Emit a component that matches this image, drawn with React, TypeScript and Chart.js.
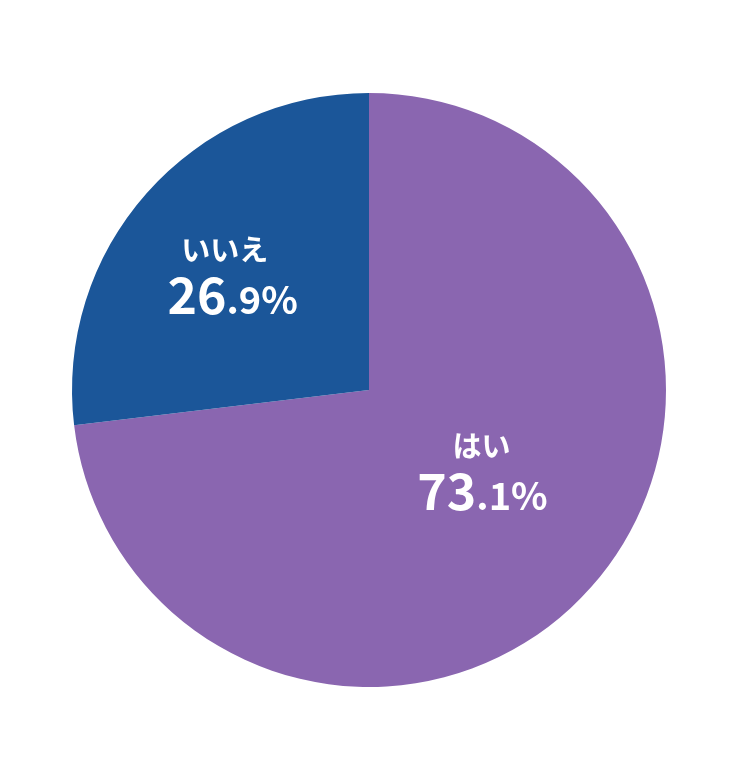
import React, { useEffect, useRef } from "react";
import { Chart, registerables } from "chart.js";

Chart.register(...registerables);

const categories = ["はい", "いいえ"];
const values = [73.1, 26.9];
const intParts = ["73", "26"];
const fracParts = [".1%", ".9%"];
const colors = ["#8a66b0", "#1b5699"];

// label placement style (fraction of radius, angle nudge in degrees, category-text x nudge)
const labelRadius = [0.47, 0.6];
const labelAngleShift = [-6, -1.5];
const categoryXShift = [-1, -8];

const FONT = '"Noto Sans CJK JP", "Noto Sans", sans-serif';

const labelPlugin = {
  id: "sliceLabels",
  afterDatasetsDraw(chart: any) {
    const ctx = chart.ctx;
    const meta = chart.getDatasetMeta(0);
    meta.data.forEach((arc: any, i: number) => {
      const p = arc.getProps(["x", "y", "startAngle", "endAngle", "outerRadius"], true);
      const mid = (p.startAngle + p.endAngle) / 2 + (labelAngleShift[i] * Math.PI) / 180;
      const r = p.outerRadius * labelRadius[i];
      const cx = p.x + Math.cos(mid) * r;
      const cy = p.y + Math.sin(mid) * r;
      ctx.save();
      ctx.fillStyle = "#ffffff";
      ctx.textAlign = "center";
      ctx.textBaseline = "middle";
      ctx.font = `bold 29px ${FONT}`;
      ctx.fillText(categories[i], cx + categoryXShift[i], cy - 25);
      ctx.textBaseline = "alphabetic";
      ctx.textAlign = "left";
      const bigFont = `bold 50px ${FONT}`;
      const smallFont = `bold 38px ${FONT}`;
      ctx.font = bigFont;
      const w1 = ctx.measureText(intParts[i]).width;
      ctx.font = smallFont;
      const w2 = ctx.measureText(fracParts[i]).width;
      const x0 = cx - (w1 + w2) / 2;
      ctx.font = bigFont;
      ctx.fillText(intParts[i], x0, cy + 39);
      ctx.font = smallFont;
      ctx.fillText(fracParts[i], x0 + w1, cy + 39);
      ctx.restore();
    });
  },
};

export default function App() {
  const ref = useRef<HTMLCanvasElement | null>(null);
  useEffect(() => {
    document.body.style.margin = "0";
    if (!ref.current) return;
    const chart = new Chart(ref.current, {
      type: "pie",
      data: {
        labels: categories,
        datasets: [
          {
            data: values,
            backgroundColor: colors,
            borderWidth: 0,
          },
        ],
      },
      options: {
        responsive: false,
        animation: false,
        layout: { padding: { left: 72, right: 74, top: 93, bottom: 93 } },
        plugins: {
          legend: { display: false },
          tooltip: { enabled: false },
        },
      },
      plugins: [labelPlugin],
    });
    return () => chart.destroy();
  }, []);
  return (
    <div style={{ width: 740, height: 780, background: "#ffffff" }}>
      <canvas ref={ref} width={740} height={780} />
    </div>
  );
}
